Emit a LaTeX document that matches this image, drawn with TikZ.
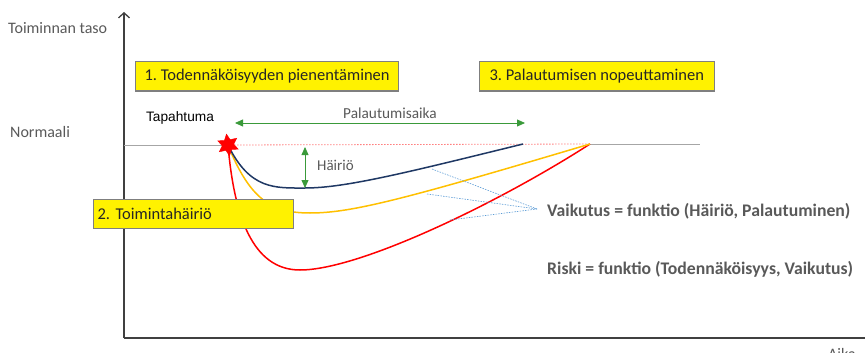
\documentclass[tikz,border=0pt]{standalone}
\usepackage{fontspec}
\setmainfont{Carlito}
\newfontfamily\arialf{Liberation Sans}
\usetikzlibrary{arrows.meta,shapes.geometric}
\definecolor{axisgrey}{HTML}{404040}
\definecolor{txtgrey}{HTML}{595959}
\definecolor{linegrey}{HTML}{A6A6A6}
\definecolor{arrgreen}{HTML}{3A9A3A}
\definecolor{navy}{HTML}{1F3864}
\definecolor{amber}{HTML}{FFC000}
\definecolor{dotblue}{HTML}{5B9BD5}
\definecolor{lightred}{HTML}{FF8080}
\definecolor{boxborder}{HTML}{7F7F7F}
\frenchspacing
\tikzset{
  ybox/.style={draw=boxborder, line width=1pt, fill=yellow, minimum height=29pt, font=\fontsize{16.5}{18}\selectfont, text=black!85, inner xsep=4pt, anchor=west, align=left},
  lbl/.style={font=\fontsize{16}{18}\selectfont, text=txtgrey, inner sep=0pt},
  formula/.style={font=\bfseries\fontsize{17.7}{20}\selectfont, text=txtgrey, inner sep=0pt, anchor=west},
  curve/.style={line width=1.5pt},
  gr/.style={draw=arrgreen, line width=0.8pt, {Triangle[length=8pt,width=7pt]}-{Triangle[length=8pt,width=7pt]}, fill=arrgreen},
  dotl/.style={draw=dotblue, line width=0.6pt, dash pattern=on 1.5pt off 1.2pt}
}
\begin{document}
\begin{tikzpicture}[x=1pt,y=-1pt]
\useasboundingbox (0,0) rectangle (865,353);
% axes
\coordinate (orig) at (124,338);
\coordinate (ytop) at (124,12);
\coordinate (xend) at (868,338);
\draw[axisgrey, line width=1.6pt, -{Straight Barb[length=5pt,width=11pt,line width=1.3pt]}] (orig) -- (ytop);
\draw[axisgrey, line width=1.6pt] (orig) -- (xend);
\node[lbl, anchor=west] (ylab) at (8,28) {Toiminnan taso};
\node[lbl, anchor=west] (norm) at (10,132) {Normaali};
\node[lbl, anchor=base] (aika) at (842,359) {Aika};
% normal level
\coordinate (ev) at (228,145);
\coordinate (n0) at (124,145);
\coordinate (bEnd) at (523,144);
\coordinate (rEnd) at (590,144);
\coordinate (n1) at (700,144);
\draw[linegrey, line width=1pt] (n0) -- (ev);
\draw[lightred, line width=0.8pt, dash pattern=on 1.5pt off 1.5pt] (ev) -- (rEnd);
\draw[linegrey, line width=1pt] (rEnd) -- (n1);
% curves
\coordinate (bMin) at (305,188);
\coordinate (yMin) at (310,213);
\coordinate (rMin) at (300,270);
\draw[curve, red] (ev) .. controls (234,215) and (252,270) .. (rMin) .. controls (360,270) and (500,202) .. (rEnd);
\draw[curve, amber] (ev) .. controls (250,200) and (272,213) .. (yMin) .. controls (352,213) and (405,199) .. (rEnd);
\draw[curve, navy] (ev) .. controls (250,190) and (275,188) .. (bMin) .. controls (345,188) and (405,173) .. (bEnd);
% dotted links
\coordinate (conv) at (537,209);
\coordinate (pb) at (432,169);
\coordinate (py) at (427,194);
\coordinate (pr) at (450,220);
\draw[dotl] (pb) -- (conv);
\draw[dotl] (py) -- (conv);
\draw[dotl] (pr) -- (conv);
% star
\node[star, star points=6, star point ratio=1.9, fill=red, draw=red, minimum size=22pt, inner sep=0pt, rotate=8] (star) at (ev) {};
% boxes
\node[ybox, minimum width=257pt, inner xsep=9pt] (box1) at (135,76.5) {1. Todennäköisyyden pienentäminen};
\node[ybox, minimum width=230pt, inner xsep=10pt] (box3) at (479,76.5) {3. Palautumisen nopeuttaminen};
\node[ybox, minimum width=200pt, text width=192pt] (box2) at (93,214) {2. Toimintahäiriö};
% labels
\node[font=\arialf\fontsize{13.7}{15}\selectfont, inner sep=0pt] (tap) at (180,118) {Tapahtuma};
\coordinate (pa) at (235,123);
\coordinate (pbb) at (525,123);
\draw[gr] (pa) -- (pbb);
\node[lbl, anchor=base, font=\fontsize{15.3}{17}\selectfont] (palt) at (390,118) {Palautumisaika};
\coordinate (ha) at (305,147);
\coordinate (hb) at (305,188);
\draw[gr] (ha) -- (hb);
\node[lbl, anchor=west, font=\fontsize{15}{17}\selectfont] (hair) at (317,165) {Häiriö};
\node[formula] (vaik) at (547,211) {Vaikutus = funktio (Häiriö, Palautuminen)};
\node[formula] (riski) at (547,269) {Riski = funktio (Todennäköisyys, Vaikutus)};
\end{tikzpicture}
\end{document}
